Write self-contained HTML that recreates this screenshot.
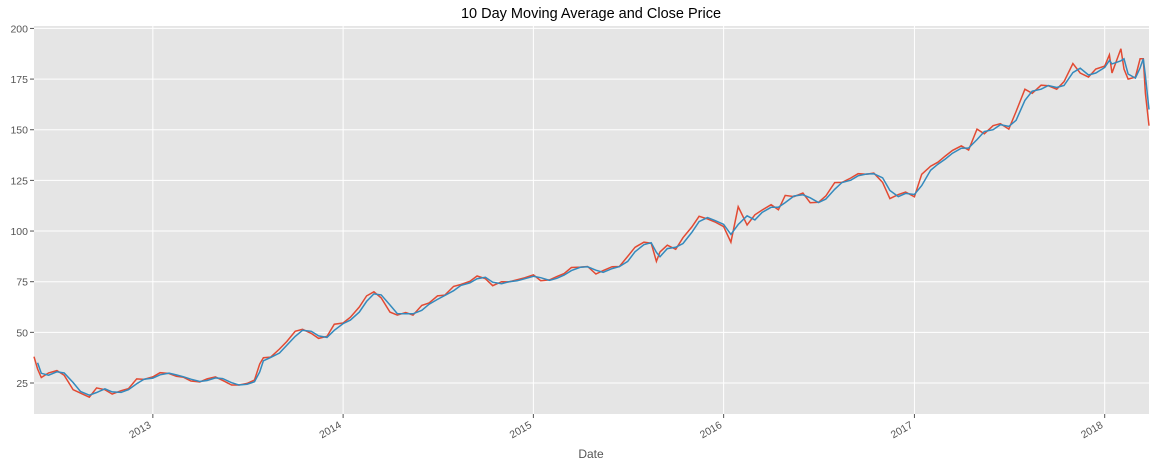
<!DOCTYPE html>
<html><head><meta charset="utf-8"><style>
body{margin:0;background:#fff;font-family:"Liberation Sans",sans-serif}
</style></head><body>
<svg id="chart" width="1156" height="468" xmlns="http://www.w3.org/2000/svg" font-family="Liberation Sans, sans-serif">
<rect x="34" y="26" width="1115" height="388" fill="#e5e5e5"/>
<g id="grid"></g><g id="series"></g><g id="axes"></g>
<text x="591" y="18" text-anchor="middle" font-size="14.5" fill="#000">10 Day Moving Average and Close Price</text>
<text x="591" y="458" text-anchor="middle" font-size="12" fill="#555">Date</text>
</svg>
<script>
const dates=["2012-05-18","2012-05-25","2012-06-01","2012-06-15","2012-07-01","2012-07-15","2012-08-01","2012-08-15","2012-09-01","2012-09-15","2012-10-01","2012-10-15","2012-11-01","2012-11-15","2012-12-01","2012-12-15","2013-01-01","2013-01-15","2013-02-01","2013-02-15","2013-03-01","2013-03-15","2013-04-01","2013-04-15","2013-05-01","2013-05-15","2013-06-01","2013-06-15","2013-07-01","2013-07-15","2013-07-25","2013-08-01","2013-08-15","2013-09-01","2013-09-15","2013-10-01","2013-10-15","2013-11-01","2013-11-15","2013-12-01","2013-12-15","2014-01-01","2014-01-15","2014-02-01","2014-02-15","2014-03-01","2014-03-15","2014-04-01","2014-04-15","2014-05-01","2014-05-15","2014-06-01","2014-06-15","2014-07-01","2014-07-15","2014-08-01","2014-08-15","2014-09-01","2014-09-15","2014-10-01","2014-10-15","2014-11-01","2014-11-15","2014-12-01","2014-12-15","2015-01-01","2015-01-15","2015-02-01","2015-02-15","2015-03-01","2015-03-15","2015-04-01","2015-04-15","2015-05-01","2015-05-15","2015-06-01","2015-06-15","2015-07-01","2015-07-15","2015-08-01","2015-08-15","2015-08-25","2015-09-01","2015-09-15","2015-10-01","2015-10-15","2015-11-01","2015-11-15","2015-12-01","2015-12-15","2016-01-01","2016-01-15","2016-01-29","2016-02-15","2016-03-01","2016-03-15","2016-04-01","2016-04-15","2016-04-28","2016-05-15","2016-06-01","2016-06-15","2016-07-01","2016-07-15","2016-08-01","2016-08-15","2016-09-01","2016-09-15","2016-10-01","2016-10-15","2016-11-01","2016-11-15","2016-12-01","2016-12-15","2017-01-01","2017-01-15","2017-02-01","2017-02-15","2017-03-01","2017-03-15","2017-04-01","2017-04-15","2017-05-01","2017-05-15","2017-06-01","2017-06-15","2017-07-01","2017-07-15","2017-08-01","2017-08-15","2017-09-01","2017-09-15","2017-10-01","2017-10-15","2017-11-01","2017-11-15","2017-12-01","2017-12-15","2018-01-01","2018-01-10","2018-01-15","2018-02-01","2018-02-07","2018-02-15","2018-03-01","2018-03-10","2018-03-16","2018-03-20","2018-03-27"];
const close=[38,31.9,27.7,30,31.1,28.8,21.7,20,18,22.6,21.7,19.5,21.2,22.2,27,26.8,28,30.1,29.7,28.3,27.8,26,25.5,27,28,26.3,24,24,24.8,26.5,34.4,37.5,37.8,41.8,45.5,50.5,51.5,49.5,47,48,54,54.6,57.5,62.5,68,70,67,60,58.5,59.8,58.5,63.3,64.5,68,68.4,72.7,73.6,75.2,77.8,76.5,73,75,74.9,76,76.9,78.4,75.5,75.9,77.5,79,82,82.2,82.5,78.8,80.5,82.4,82.5,87.5,92,94.5,94,85,89.7,93,91,96.7,102,107.3,106,104.5,102.2,94.5,112,103,108,110.4,113,110.5,117.6,117,118.8,114,114.2,117.3,123.9,124,126.2,128.3,128,128.6,124,116,118,119.2,116.9,128,132,134,137,139.8,142,140,150.3,148,152,153,150.3,159,170,168,172,171.7,170,173.7,182.7,178,176,180,181.4,187,178,190,180,175,176,185,185,168,152];
const yTicks=[25,50,75,100,125,150,175,200];
const xTicks=["2013","2014","2015","2016","2017","2018"];
const L=34,R=1149,T=26,B=414,yMin=9.7,yMax=201.2;
const t0=Date.parse("2012-05-18"),t1=Date.parse("2018-03-27");
const X=d=>L+(Date.parse(d)-t0)/(t1-t0)*(R-L);
const Y=v=>B-(v-yMin)/(yMax-yMin)*(B-T);
const NS="http://www.w3.org/2000/svg";
function mk(tag,attrs,parent){const e=document.createElementNS(NS,tag);for(const k in attrs)e.setAttribute(k,attrs[k]);parent.appendChild(e);return e;}
const grid=document.getElementById('grid'),axes=document.getElementById('axes'),series=document.getElementById('series');
yTicks.forEach(v=>{const y=Y(v);
 const g=mk('line',{x1:L,x2:R,y1:y,y2:y,stroke:'#fff','stroke-width':1},grid);
 
 const tk=mk('line',{x1:L-4,x2:L,y1:y,y2:y,stroke:'#555'},axes);
 
 const t=mk('text',{x:L-6,y:y+4,'text-anchor':'end','font-size':10.5,fill:'#555'},axes);t.textContent=v;
 });
xTicks.forEach(s=>{const x=X(s+"-01-01");
 const g=mk('line',{x1:x,x2:x,y1:T,y2:B,stroke:'#fff','stroke-width':1},grid);
 
 const tk=mk('line',{x1:x,x2:x,y1:B,y2:B+4,stroke:'#555'},axes);
 
 const t=mk('text',{x:x-1,y:B+13,'text-anchor':'end','font-size':10.5,fill:'#555',transform:`rotate(-30 ${x-1} ${B+13})`},axes);t.textContent=s;
 });
const ma=close.map((v,i)=>i===0?null:(v+close[i-1])/2);
const pc=close.map((v,i)=>X(dates[i]).toFixed(1)+','+Y(v).toFixed(1)).join(' ');
const pm=ma.map((v,i)=>v===null?null:X(dates[i]).toFixed(1)+','+Y(v).toFixed(1)).filter(p=>p).join(' ');
const c=mk('polyline',{points:pc,fill:'none',stroke:'#E24A33','stroke-width':1.5},series);

const m=mk('polyline',{points:pm,fill:'none',stroke:'#348ABD','stroke-width':1.5},series);

</script>
</body></html>
